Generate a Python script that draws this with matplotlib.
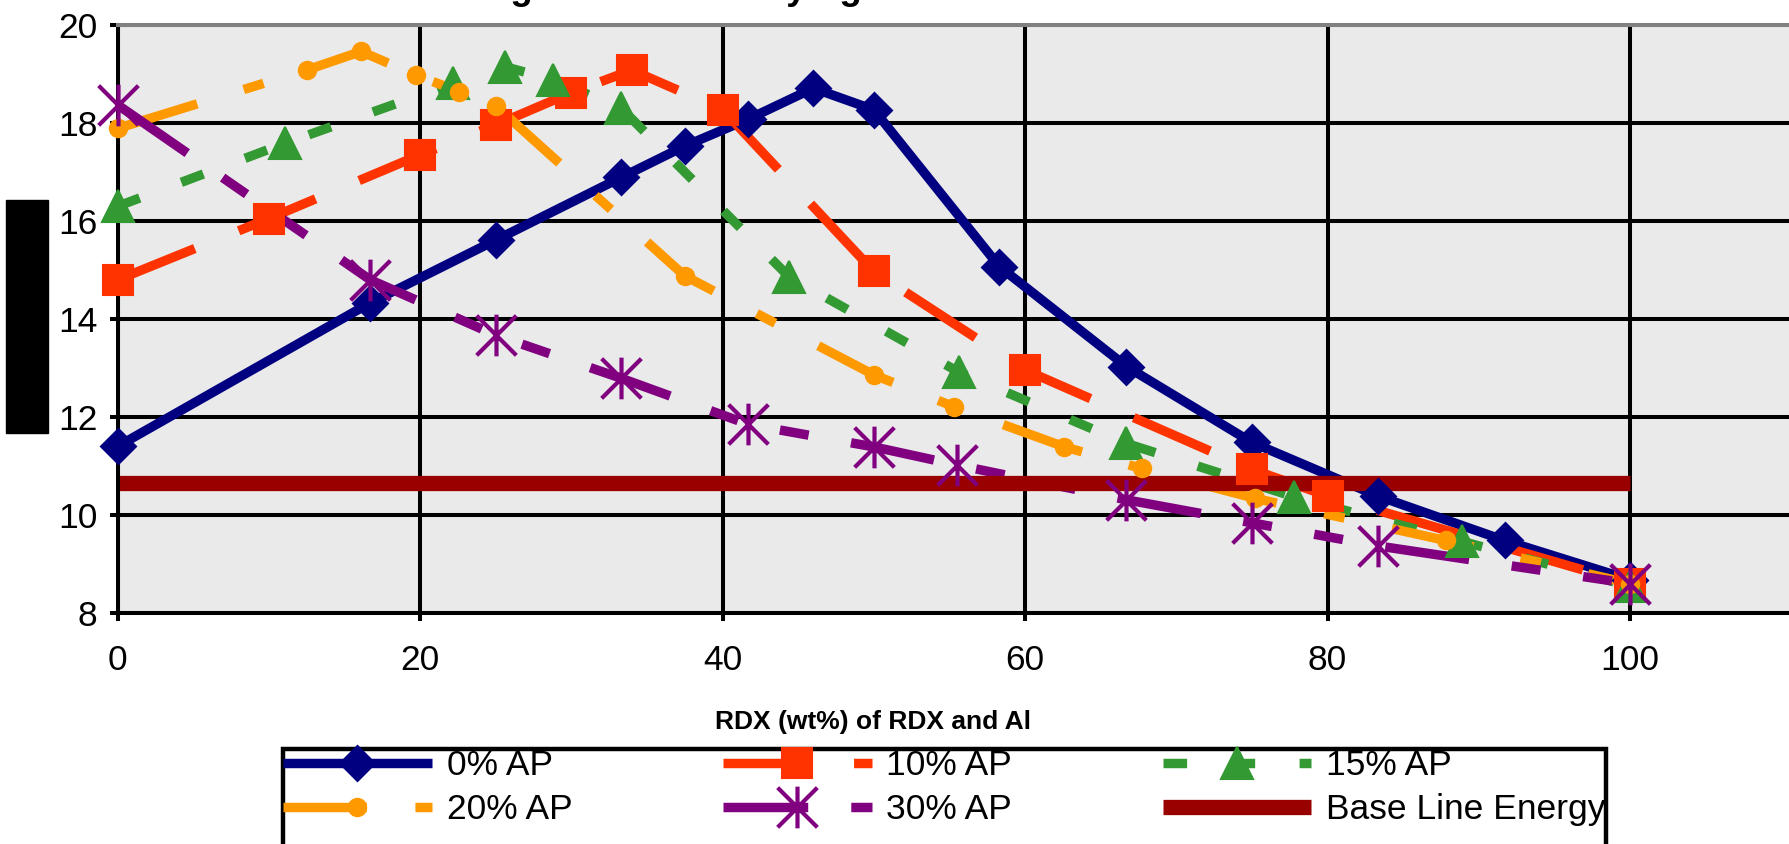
import matplotlib
matplotlib.use("Agg")
import matplotlib.pyplot as plt
from matplotlib.path import Path
from matplotlib.patches import Rectangle
from matplotlib.lines import Line2D
from matplotlib.legend_handler import HandlerTuple

plt.rcParams["font.family"] = ["Liberation Sans", "DejaVu Sans"]
plt.rcParams["lines.scale_dashes"] = False

# ---- data: RDX (wt%) of RDX and Al vs. energy ----
rdx_0ap = [0, 16.7, 25, 33.3, 37.5, 41.7, 46, 50, 58.3, 66.7, 75, 83.3, 91.7, 100]
energy_0ap = [11.4, 14.33, 15.61, 16.89, 17.53, 18.08, 18.71, 18.27, 15.07, 13.03, 11.48, 10.39, 9.48, 8.68]

rdx_10ap = [0, 10, 20, 25, 30, 34, 40, 50, 60, 75, 80, 100]
energy_10ap = [14.8, 16.05, 17.35, 17.96, 18.62, 19.08, 18.27, 14.97, 12.96, 10.93, 10.39, 8.6]

rdx_15ap = [0, 11.1, 22.2, 25.6, 28.8, 33.3, 44.4, 55.6, 66.7, 77.8, 88.9, 100]
energy_15ap = [16.3, 17.59, 18.81, 19.15, 18.88, 18.3, 14.86, 12.92, 11.46, 10.37, 9.46, 8.55]

rdx_20ap = [0, 12.5, 16.1, 19.7, 22.6, 25, 37.5, 50, 55.3, 62.6, 67.7, 75.2, 87.8, 100]
energy_20ap = [17.89, 19.08, 19.46, 18.98, 18.64, 18.35, 14.88, 12.86, 12.21, 11.39, 10.95, 10.34, 9.48, 8.6]

rdx_30ap = [0, 16.7, 25, 33.3, 41.7, 50, 55.5, 66.7, 75, 83.3, 100]
energy_30ap = [18.37, 14.8, 13.67, 12.79, 11.85, 11.39, 11.02, 10.31, 9.84, 9.37, 8.6]

rdx_base = [0, 100]
energy_base = [10.66, 10.66]

series_labels = ["0% AP", "10% AP", "15% AP", "20% AP", "30% AP", "Base Line Energy"]
x_ticks = [0, 20, 40, 60, 80, 100]
y_ticks = [8, 10, 12, 14, 16, 18, 20]
x_label = "RDX (wt%) of RDX and Al"
title_text = "Heating Values for Varying AP"

# ---- styling ----
W, H = 1790, 844
LW = 6.8
asterisk = Path([(-1, -1), (1, 1), (-1, 1), (1, -1), (0, -1.05), (0, 1.05)],
                [Path.MOVETO, Path.LINETO, Path.MOVETO, Path.LINETO, Path.MOVETO, Path.LINETO])

styles = [
    dict(color="#000080", ls="-", marker="D", ms=17, mew=2.0, fill=True),
    dict(color="#FF3300", ls=(0, (60, 34)), marker="s", ms=21, mew=1.5, fill=True),
    dict(color="#339933", ls=(0, (17, 32)), marker="^", ms=23, mew=1.5, fill=True),
    dict(color="#FF9900", ls=(0, (60, 35, 15, 35)), marker="o", ms=13, mew=1.0, fill=True),
    dict(color="#800080", ls=(0, (61, 31, 21, 31, 21, 31)), marker=asterisk, ms=30, mew=3.0, fill=False),
]
series = [
    (rdx_0ap, energy_0ap),
    (rdx_10ap, energy_10ap),
    (rdx_15ap, energy_15ap),
    (rdx_20ap, energy_20ap),
    (rdx_30ap, energy_30ap),
]

fig = plt.figure(figsize=(W / 100, H / 100), dpi=100)
fig.patch.set_facecolor("white")
ax = fig.add_axes([117.6 / W, 1 - 613 / H, 1 - 117.6 / W, 588 / H])
ax.set_facecolor("#EAEAEA")

handles = []
for i, ((xs, ys), st) in enumerate(zip(series, styles)):
    ln, = ax.plot(xs, ys, color=st["color"], lw=LW, linestyle=st["ls"],
                  solid_capstyle="butt", dash_capstyle="butt",
                  solid_joinstyle="round", dash_joinstyle="round",
                  zorder=2 + 0.01 * i, clip_on=False)
    mk, = ax.plot(xs, ys, linestyle="none", marker=st["marker"], ms=st["ms"],
                  mfc=st["color"] if st["fill"] else "none", mec=st["color"],
                  mew=st["mew"], zorder=3 + 0.01 * i, clip_on=False)
    handles.append((ln, mk))

base_ln, = ax.plot(rdx_base, energy_base, color="#990000", lw=11,
                   solid_capstyle="butt", zorder=2.2, clip_on=False)
handles.append(base_ln)

# ---- axes ----
ax.set_xlim(0, (W - 117.6) / 15.125)
ax.set_ylim(8, 20)
ax.set_xticks(x_ticks)
ax.set_yticks(y_ticks)
ax.set_axisbelow(True)
ax.grid(True, color="black", linewidth=2.9)
for side in ("left", "bottom"):
    ax.spines[side].set_color("black")
    ax.spines[side].set_linewidth(2.9)
ax.spines["top"].set_color("#808080")
ax.spines["top"].set_linewidth(2.9)
ax.spines["right"].set_visible(False)
ax.tick_params(axis="both", direction="out", length=5.5, width=2.9,
               colors="black", labelsize=25.5)
ax.tick_params(axis="x", pad=17)
ax.tick_params(axis="y", pad=9)

fig.text(873 / W, 1 - 722 / H, x_label, ha="center", va="center",
         fontsize=19, fontweight="bold")

fig.text(398 / W, 1 + 1 / H, title_text, ha="left", va="baseline",
         fontsize=26.5, fontweight="bold")

# redaction block beside the value axis
fig.patches.append(Rectangle((6 / W, 1 - 433 / H), 42 / W, 233 / H,
                             transform=fig.transFigure, color="black"))

# ---- legend (filled column by column, third row left empty) ----
blank = Line2D([], [], linestyle="none")
leg_handles = [handles[0], handles[3], blank,
               handles[1], handles[4], blank,
               handles[2], handles[5], blank]
leg_labels = [series_labels[0], series_labels[3], " ",
              series_labels[1], series_labels[4], " ",
              series_labels[2], series_labels[5], " "]
leg = ax.legend(leg_handles, leg_labels, loc="upper left",
                bbox_to_anchor=(283 / W, 1 - 749 / H), bbox_transform=fig.transFigure,
                ncol=3, fontsize=25.5, handlelength=4.2, handletextpad=0.42,
                columnspacing=4.25, borderpad=0.0, labelspacing=0.32,
                borderaxespad=0, frameon=True, fancybox=False, framealpha=1,
                numpoints=1, handler_map={tuple: HandlerTuple(ndivide=1)})
leg.get_frame().set_edgecolor("black")
leg.get_frame().set_linewidth(3.2)
leg.get_frame().set_facecolor("white")
leg.set_zorder(10)

fig.savefig("out.png", dpi=100)
